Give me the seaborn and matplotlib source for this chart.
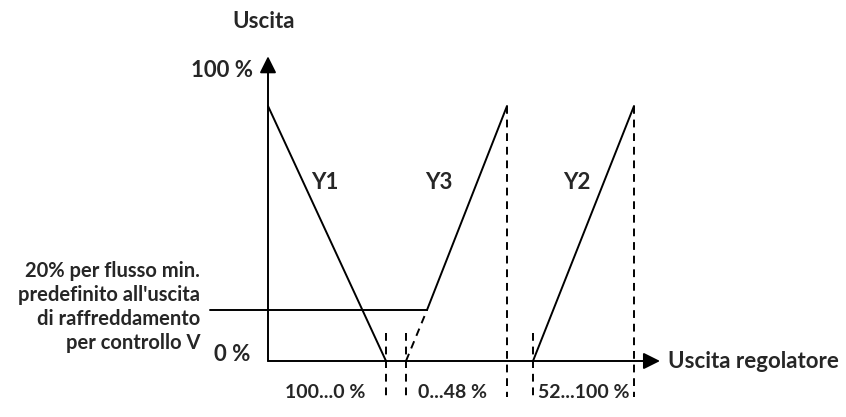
import matplotlib
matplotlib.use("Agg")
import matplotlib.pyplot as plt
import seaborn as sns
import pandas as pd

sns.set_theme(style="white")
plt.rcParams['font.family'] = ['Lato', 'DejaVu Sans']

# Data (x: controller output position, arbitrary units; y: output %)
y1_x = [0, 118]
y1_y = [100, 0]
y3_solid_x = [159, 239]
y3_solid_y = [20, 100]
y3_dash_x = [138, 159]
y3_dash_y = [0, 20]
y2_x = [265, 366]
y2_y = [0, 100]
min_flow_x = [-58, 159]
min_flow_y = [20, 20]
short_dash_x = [118, 138, 265]
long_dash_x = [239, 366]
range_labels = ["100...0 %", "0...48 %", "52...100 %"]
range_label_x = [57, 184, 316]
curve_labels = ["Y1", "Y3", "Y2"]
curve_label_x = [57, 171, 309]

fig = plt.figure(figsize=(8.46, 4.17), dpi=100)
ax = fig.add_axes([0, 0, 1, 1])
ax.set_xlim(-268, 578)
ax.set_ylim((361 - 417) / 2.55, 361 / 2.55)
ax.axis('off')

lw = 1.4
df = pd.DataFrame({
    'x': y1_x + y3_solid_x + y2_x + min_flow_x,
    'y': y1_y + y3_solid_y + y2_y + min_flow_y,
    'g': ['Y1'] * 2 + ['Y3'] * 2 + ['Y2'] * 2 + ['min'] * 2,
})
sns.lineplot(data=df, x='x', y='y', units='g', estimator=None, sort=False,
             color='black', lw=lw, ax=ax, legend=False)
sns.lineplot(x=y3_dash_x, y=y3_dash_y, estimator=None, sort=False,
             color='black', lw=lw, ax=ax, linestyle=(0, (4, 3)))

for x in short_dash_x:
    ax.plot([x, x], [11, -14], color='black', lw=lw, linestyle=(0, (4, 3)))
for x in long_dash_x:
    ax.plot([x, x], [100, -14], color='black', lw=lw, linestyle=(0, (4, 3)))

# axes with arrows
head = '-|>,head_length=0.5,head_width=0.25'
ax.annotate('', xy=(392, 0), xytext=(0, 0),
            arrowprops=dict(arrowstyle=head, color='black',
                            lw=lw, mutation_scale=20, shrinkA=0, shrinkB=0))
ax.annotate('', xy=(0, 119.5), xytext=(0, 0),
            arrowprops=dict(arrowstyle=head, color='black',
                            lw=lw, mutation_scale=20, shrinkA=0, shrinkB=0))

fs = 16
ax.text(-15, 114, "100 %", ha='right', va='center', fontsize=fs, fontweight='bold')
ax.text(-18, 2.5, "0 %", ha='right', va='center', fontsize=fs, fontweight='bold')
ax.text(-36, 133, "Uscita", ha='left', va='center', fontsize=fs, fontweight='bold')
ax.text(400, 0, "Uscita regolatore", ha='left', va='center', fontsize=fs, fontweight='bold')
ax.text(-68, 21, "20% per flusso min.\npredefinito all'uscita\ndi raffreddamento\nper controllo V",
        ha='right', va='center', fontsize=14.5, fontweight='bold', linespacing=1.25)
for lab, x in zip(curve_labels, curve_label_x):
    ax.text(x, 70, lab, ha='center', va='center', fontsize=fs, fontweight='bold')
for lab, x in zip(range_labels, range_label_x):
    ax.text(x, -12.5, lab, ha='center', va='center', fontsize=14, fontweight='bold')

fig.savefig("out.png", dpi=100)
